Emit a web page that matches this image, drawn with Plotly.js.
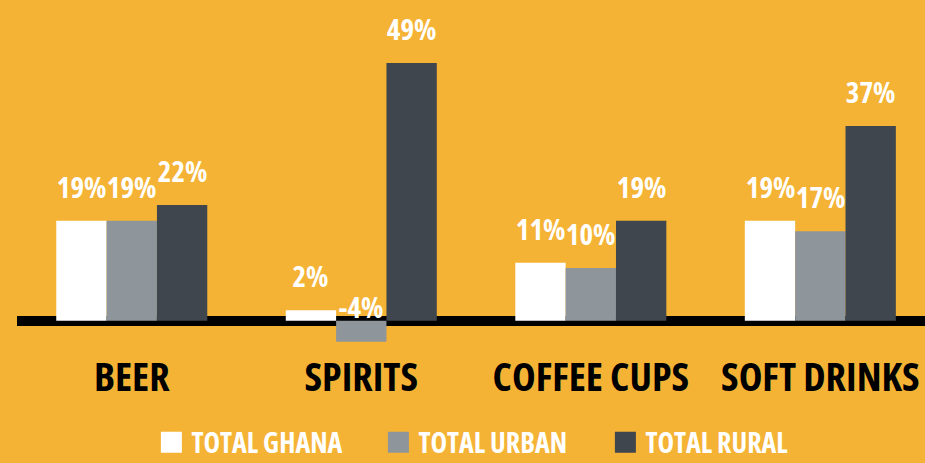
<!DOCTYPE html>
<html>
<head>
<meta charset="utf-8">
<script src="https://cdn.plot.ly/plotly-3.0.1.min.js"></script>
<style>html,body{margin:0;padding:0;background:#F5B335;}#chart{width:925px;height:463px;}
.main-svg text{font-stretch:75% !important;}</style>
</head>
<body>
<div id="chart"></div>
<script>
const categories = ['BEER', 'SPIRITS', 'COFFEE CUPS', 'SOFT DRINKS'];
const seriesNames = ['TOTAL GHANA', 'TOTAL URBAN', 'TOTAL RURAL'];
const totalGhana = [19, 2, 11, 19];
const totalUrban = [19, -4, 10, 17];
const totalRural = [22, 49, 19, 37];
const seriesValues = [totalGhana, totalUrban, totalRural];
const seriesColors = ['#FFFFFF', '#8E959B', '#3F464D'];

const FONT = '"Open Sans", "Roboto", sans-serif';
const BAR_PX = 50.3;

const traces = [];
seriesValues.forEach((vals, i) => {
  traces.push({
    type: 'bar', x: categories, y: vals, name: seriesNames[i],
    marker: {color: seriesColors[i], line: {width: 0}},
    showlegend: false, hoverinfo: 'skip'
  });
});
seriesNames.forEach((n, i) => {
  traces.push({
    type: 'scatter', mode: 'markers', x: [null], y: [null], name: n,
    marker: {symbol: 'square', size: 16, color: seriesColors[i], line: {width: 5, color: seriesColors[i]}},
    hoverinfo: 'skip'
  });
});

const annotations = [];
seriesValues.forEach((vals, i) => {
  vals.forEach((v, j) => {
    annotations.push({
      x: categories[j], y: Math.max(v, 0), xref: 'x', yref: 'y',
      text: v + '%', showarrow: false, yanchor: 'bottom',
      xshift: (i - 1) * BAR_PX, yshift: v < 0 ? -7 : 13,
      font: {family: FONT, size: 29, color: '#FFFFFF', weight: 'bold'}
    });
  });
});

const layout = {
  width: 925, height: 463,
  margin: {l: 17, r: 0, t: 0, b: 0, autoexpand: false},
  paper_bgcolor: '#F5B335', plot_bgcolor: '#F5B335',
  barmode: 'group', bargap: 0.342, bargroupgap: 0,
  xaxis: {
    type: 'category', range: [-0.5, 3.456], anchor: 'free', position: 0.245,
    showline: false, showgrid: false, ticks: '', zeroline: false, tickangle: 0,
    tickfont: {family: FONT, size: 40, color: '#000000', weight: 'bold'},
    fixedrange: true, automargin: false
  },
  yaxis: {
    range: [-27.05, 60.97], showgrid: false, showticklabels: false, ticks: '',
    zeroline: true, zerolinecolor: '#000000', zerolinewidth: 10, layer: 'above traces',
    fixedrange: true, automargin: false
  },
  legend: {
    orientation: 'h', x: 0.148, xanchor: 'left', y: -0.01, yanchor: 'bottom',
    entrywidth: 182, entrywidthmode: 'pixels', bgcolor: 'rgba(0,0,0,0)',
    font: {family: FONT, size: 28, color: '#FFFFFF', weight: 'bold'}
  },
  annotations: annotations,
  showlegend: true
};

Plotly.newPlot('chart', traces, layout, {displayModeBar: false, staticPlot: true});
</script>
</body>
</html>
